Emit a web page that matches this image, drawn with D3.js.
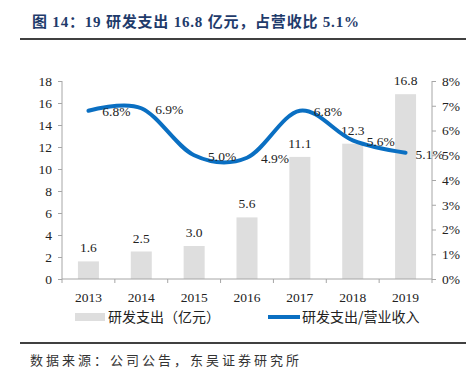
<!DOCTYPE html>
<html>
  <head>
    <meta charset="utf-8" />
    <title>研发支出</title>
    <script src="https://cdn.jsdelivr.net/npm/d3@7"></script>
    <style>
      body { margin: 0; background: #fff; }
      svg text { font-family: "Liberation Serif", "Times New Roman", serif; }
      .cjk { font-family: "Noto Sans CJK SC", sans-serif; }
    </style>
  </head>
  <body>
    <script>
      // data
      const years = ["2013", "2014", "2015", "2016", "2017", "2018", "2019"];
      const spend = [1.6, 2.5, 3.0, 5.6, 11.1, 12.3, 16.8];
      const ratio = [6.8, 6.9, 5.0, 4.9, 6.8, 5.6, 5.1];
      const leftTicks = [0, 2, 4, 6, 8, 10, 12, 14, 16, 18];
      const rightTicks = [0, 1, 2, 3, 4, 5, 6, 7, 8];

      const w = 475;
      const h = 386;
      const pLeft = 62, pRight = 432, pTop = 81, pBottom = 279;
      const axisColor = "#a6a6a6";

      const svg = d3.select("body").append("svg")
        .attr("width", w)
        .attr("height", h);

      // title + rule
      svg.append("text")
        .attr("x", 32).attr("y", 27)
        .attr("fill", "#1f3b6b")
        .style("font-weight", "bold")
        .style("font-size", "15px")
        .style("letter-spacing", "0.8px")
        .style("font-family", "'Liberation Serif', 'Noto Sans CJK SC', serif")
        .text("图 14：19 研发支出 16.8 亿元，占营收比 5.1%");
      svg.append("line")
        .attr("x1", 20).attr("x2", 466).attr("y1", 39).attr("y2", 39)
        .attr("stroke", "#000").attr("stroke-width", 1.5);

      const x = d3.scaleBand().domain(years).range([pLeft, pRight]);
      const y = d3.scaleLinear().domain([0, 18]).range([pBottom, pTop]);
      const y2 = d3.scaleLinear().domain([0, 8]).range([pBottom, pTop]);

      // bars
      const barW = 21;
      svg.selectAll("rect.bar")
        .data(spend)
        .enter().append("rect")
        .attr("class", "bar")
        .attr("x", (d, i) => x(years[i]) + x.bandwidth() / 2 - barW / 2)
        .attr("y", d => y(d))
        .attr("width", barW)
        .attr("height", d => pBottom - y(d))
        .attr("fill", "#dedede");

      svg.selectAll("text.barlab")
        .data(spend)
        .enter().append("text")
        .attr("class", "barlab")
        .attr("x", (d, i) => x(years[i]) + x.bandwidth() / 2)
        .attr("y", d => y(d) - 9)
        .attr("text-anchor", "middle")
        .style("font-size", "13.5px")
        .attr("fill", "#222")
        .text(d => d.toFixed(1));

      // axes
      const gl = svg.append("g")
        .attr("transform", "translate(" + pLeft + ",0)")
        .call(d3.axisLeft(y).tickValues(leftTicks).tickSize(4).tickPadding(6));
      const gr = svg.append("g")
        .attr("transform", "translate(" + pRight + ",0)")
        .call(d3.axisRight(y2).tickValues(rightTicks).tickSize(4).tickPadding(6)
          .tickFormat(d => d + "%"));
      const gx = svg.append("g")
        .attr("transform", "translate(0," + pBottom + ")")
        .call(d3.axisBottom(x).tickSize(0).tickPadding(13));
      // tick marks between categories
      gx.selectAll("line.sep")
        .data(d3.range(years.length + 1))
        .enter().append("line")
        .attr("class", "sep")
        .attr("x1", i => pLeft + i * x.step()).attr("x2", i => pLeft + i * x.step())
        .attr("y1", 0).attr("y2", 4);

      [gl, gr, gx].forEach(g => {
        g.select(".domain").attr("stroke", axisColor);
        g.selectAll("line").attr("stroke", axisColor);
        g.selectAll("text")
          .attr("fill", "#222")
          .style("font-size", "13.5px")
          .style("font-family", "'Liberation Serif', serif");
      });
      gl.select(".domain").attr("d", "M0," + pTop + "V" + pBottom);
      gr.select(".domain").attr("d", "M0," + pTop + "V" + pBottom);
      gx.select(".domain").attr("d", "M" + pLeft + ",0H" + pRight);

      // smooth ratio line
      const line = d3.line()
        .x((d, i) => x(years[i]) + x.bandwidth() / 2)
        .y(d => y2(d))
        .curve(d3.curveCatmullRom.alpha(0));
      svg.append("path")
        .datum(ratio)
        .attr("d", line)
        .attr("fill", "none")
        .attr("stroke", "#0a6fc2")
        .attr("stroke-width", 4)
        .attr("stroke-linecap", "round");

      svg.selectAll("text.pct")
        .data(ratio)
        .enter().append("text")
        .attr("class", "pct")
        .attr("x", (d, i) => x(years[i]) + x.bandwidth() / 2 + (i === 6 ? 24 : 28))
        .attr("y", d => y2(d) + 1)
        .attr("dy", "0.35em")
        .attr("text-anchor", "middle")
        .style("font-size", "13.5px")
        .attr("fill", "#222")
        .text(d => d.toFixed(1) + "%");

      // legend
      const lg = svg.append("g").attr("transform", "translate(0,317)");
      lg.append("rect")
        .attr("x", 75).attr("y", -4).attr("width", 30).attr("height", 8)
        .attr("fill", "#dedede");
      lg.append("text")
        .attr("class", "cjk")
        .attr("x", 108).attr("y", 0).attr("dy", "0.35em")
        .style("font-size", "14px")
        .attr("fill", "#222")
        .text("研发支出（亿元）");
      lg.append("line")
        .attr("x1", 268).attr("x2", 300).attr("y1", 0).attr("y2", 0)
        .attr("stroke", "#0a6fc2").attr("stroke-width", 4);
      lg.append("text")
        .attr("class", "cjk")
        .attr("x", 302).attr("y", 0).attr("dy", "0.35em")
        .style("font-size", "14px")
        .attr("fill", "#222")
        .text("研发支出/营业收入");

      // footer
      svg.append("line")
        .attr("x1", 20).attr("x2", 466).attr("y1", 343).attr("y2", 343)
        .attr("stroke", "#000").attr("stroke-width", 1.5);
      svg.append("text")
        .attr("class", "cjk")
        .attr("x", 30).attr("y", 365)
        .style("font-size", "13px")
        .style("letter-spacing", "3px")
        .attr("fill", "#333")
        .text("数据来源：公司公告，东吴证券研究所");
    </script>
  </body>
</html>
